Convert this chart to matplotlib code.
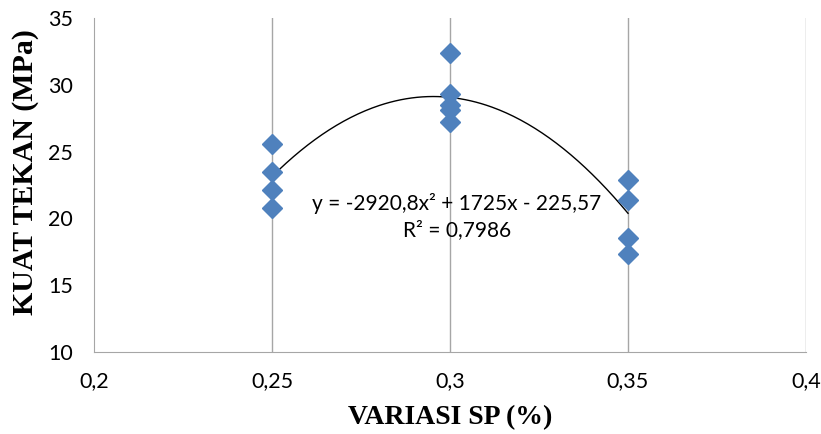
import numpy as np
import matplotlib.pyplot as plt

# data
sp_025 = [25.6, 23.5, 22.1, 20.8]
sp_030 = [32.4, 29.3, 28.5, 28.1, 27.2]
sp_035 = [22.9, 21.4, 18.5, 17.3]
x_vals = [0.25] * len(sp_025) + [0.30] * len(sp_030) + [0.35] * len(sp_035)
y_vals = sp_025 + sp_030 + sp_035

# trendline from the chart label
coef = [-2920.8, 1725, -225.57]
r2 = 0.7986

x_ticks = [0.2, 0.25, 0.3, 0.35, 0.4]
x_tick_labels = ["0,2", "0,25", "0,3", "0,35", "0,4"]
y_ticks = [10, 15, 20, 25, 30, 35]

fig = plt.figure(figsize=(8.21, 4.34), dpi=100)
ax = fig.add_axes([94 / 821, 1 - 352 / 434, (806 - 94) / 821, (352 - 18) / 434])

ax.set_xlim(0.2, 0.4)
ax.set_ylim(10, 35)

for xv in x_ticks[1:]:
    ax.axvline(xv, color="#a6a6a6", lw=1, zorder=0)

ax.plot(x_vals, y_vals, "D", color="#4f81bd", ms=10, mec="#4f81bd", zorder=3)

xs = np.linspace(0.25, 0.35, 200)
ax.plot(xs, np.polyval(coef, xs), color="black", lw=1, zorder=2)

ax.text(0.302, 21.15, "y = -2920,8x² + 1725x - 225,57", fontsize=15,
        family="Lato", ha="center", va="center")
ax.text(0.302, 19.1, f"R² = {r2}".replace(".", ","), fontsize=15,
        family="Lato", ha="center", va="center")

for s in ["top", "right"]:
    ax.spines[s].set_visible(False)
for s in ["left", "bottom"]:
    ax.spines[s].set_color("#a6a6a6")

ax.set_xticks(x_ticks)
ax.set_xticklabels(x_tick_labels)
ax.set_yticks(y_ticks)
ax.tick_params(length=0, labelsize=15.5)
ax.tick_params(axis="y", pad=15)
ax.tick_params(axis="x", pad=14)
for lab in ax.get_xticklabels() + ax.get_yticklabels():
    lab.set_family("Lato")

ax.set_xlabel("VARIASI SP (%)", family="Liberation Serif", fontweight="bold", fontsize=20, labelpad=10)
ax.set_ylabel("KUAT TEKAN (MPa)", family="Liberation Serif", fontweight="bold", fontsize=21.5)
ax.yaxis.set_label_coords(-0.077, 0.54)

fig.savefig("out.png", dpi=100)
